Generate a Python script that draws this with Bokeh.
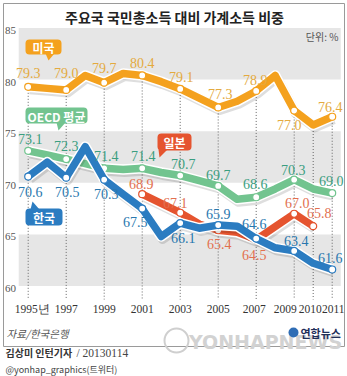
from bokeh.plotting import figure
from bokeh.models import Range1d
from bokeh.core.properties import value
from bokeh.embed import file_html
from bokeh.resources import INLINE

# ---------------- data ----------------
years = list(range(1995, 2012))
us = [79.3, 79.15, 79.0, 80.4, 79.7, 80.6, 80.4, 79.8, 79.1, 78.2, 77.3, 77.9, 78.9, 80.4, 77.0, 75.6, 76.4]
oecd = [73.1, 72.7, 72.3, 71.85, 71.4, 71.3, 71.4, 71.0, 70.7, 70.2, 69.7, 68.4, 68.6, 69.4, 70.3, 69.4, 69.0]
korea = [70.6, 72.0, 70.5, 73.5, 70.3, 68.9, 67.5, 64.8, 66.1, 65.6, 65.9, 65.8, 64.6, 63.7, 63.4, 62.2, 61.6]
japan_years = list(range(2001, 2011))
japan = [68.9, 68.0, 67.1, 66.0, 65.4, 65.2, 64.5, 65.75, 67.0, 65.8]

labeled_years = [1995, 1997, 1999, 2001, 2003, 2005, 2007, 2009, 2011]
japan_labeled = [2001, 2003, 2005, 2007, 2009, 2010]

tick_years = [1995, 1997, 1999, 2001, 2003, 2005, 2007, 2009, 2010, 2011]
tick_labels = ["1995년", "1997", "1999", "2001", "2003", "2005", "2007", "2009", "2010", "2011"]
y_ticks = [60, 65, 70, 75, 80, 85]

title = "주요국 국민총소득 대비 가계소득 비중"
unit = "단위: %"
series_names = ["미국", "OECD 평균", "한국", "일본"]
source_txt = "자료/한국은행"
credit_name = "김상미 인턴기자"
credit_date = "/ 20130114"
credit_tw = "@yonhap_graphics(트위터)"
logo_txt = "연합뉴스"
watermark = "YONHAPNEWS"

# ---------------- layout / style ----------------
W, H = 347, 376
PPX, PPY = 19.0, 10.32
XS = 1995 - 27.7 / PPX
YT = 85 + 27.5 / PPY


def xd(px):
    return XS + px / PPX


def yd(py):
    return YT - py / PPY


NUM = value("Liberation Sans Narrow")
KR = value("Noto Sans CJK KR")

C_US, T_US = "#F4A11E", "#E4AA3E"
C_OE, T_OE = "#72C48F", "#3A9E80"
C_KR, T_KR = "#2B7CC1", "#2877AE"
C_JP, T_JP = "#E5542F", "#E2704F"

off_us = [(0, -14), (0, -17), (0, -15), (0, -12), (1, -12), (2, -13), (-1, -11), (-5, 14), (-2, -10)]
off_oe = [(2, -12), (0, -13), (2, -12), (1, -12), (3, -12), (0, -11), (-1, -13), (-1, -10), (-1, -12)]
off_kr = [(2, 15), (1, 14), (2, 14), (-7, 13), (3, 15), (0, -11), (-2, -15), (2, -10), (-2, -11)]
off_jp = [(-1, -10), (-5, -10), (1, 14), (-2, 15), (3, -11), (6, -13)]
xl_off = [4, 0, 0, 0, 0, 0, -2, -9, -3, 1]

p = figure(width=W, height=H, output_backend="svg", toolbar_location=None,
           x_range=Range1d(XS, XS + W / PPX), y_range=Range1d(YT - H / PPY, YT),
           x_axis_location=None, y_axis_location=None, min_border=0,
           background_fill_color="white", border_fill_color="white")
p.outline_line_color = None
p.grid.visible = False

# bands
band_l = tick_years[0] - 0.5
band_r = tick_years[-1] + 0.45
lows = y_ticks[0::2]
highs = y_ticks[1::2]
p.quad(left=[band_l] * len(lows), right=[band_r] * len(lows), bottom=lows, top=highs,
       fill_color="#E6E6E6", line_color=None)

# outer frame
p.quad(left=[xd(3)], right=[xd(344)], top=[yd(3)], bottom=[yd(346)],
       fill_color=None, line_color="#9A9A9A", line_width=1)

# dotted guide lines from US value down to axis
us_at = {y: v for y, v in zip(years, us)}
p.segment(x0=tick_years, x1=tick_years, y0=[us_at[y] for y in tick_years],
          y1=[yd(299)] * len(tick_years), line_color="#666666", line_width=1, line_dash="1 2")


def draw_series(xs, ys, color, mark_years):
    p.line([x + 1.5 / PPX for x in xs], [y - 2.5 / PPY for y in ys], line_color="black",
           line_alpha=0.13, line_width=10, line_join="round")
    p.line(xs, ys, line_color="white", line_width=10.5, line_join="round")
    p.line(xs, ys, line_color=color, line_width=7.5, line_join="round")
    m = dict(zip(xs, ys))
    p.scatter([x for x in mark_years], [m[x] for x in mark_years], size=7, marker="circle",
              fill_color="white", line_color=color, line_width=1.2)


draw_series(years, us, C_US, labeled_years)
draw_series(years, oecd, C_OE, labeled_years)
draw_series(japan_years, japan, C_JP, japan_labeled)
draw_series(years, korea, C_KR, labeled_years)


def draw_labels(xs, ys, mark_years, offs, color):
    m = dict(zip(xs, ys))
    lx = [yr + o[0] / PPX for yr, o in zip(mark_years, offs)]
    ly = [m[yr] - o[1] / PPY for yr, o in zip(mark_years, offs)]
    tx = ["%.1f" % m[yr] for yr in mark_years]
    p.text(lx, ly, text=tx, text_color=color, text_font=NUM, text_font_size="14px",
           text_align="center", text_baseline="middle")


draw_labels(years, us, labeled_years, off_us, T_US)
draw_labels(years, oecd, labeled_years, off_oe, T_OE)
draw_labels(japan_years, japan, japan_labeled, off_jp, T_JP)
draw_labels(years, korea, labeled_years, off_kr, T_KR)

# callout boxes (px boxes) + tails
boxes = [(25, 61, 39, 54, C_US), (25, 87, 107, 123, C_OE), (25, 62, 208, 225, C_KR), (157, 191, 133, 150, C_JP)]
tails = [[(45, 53), (54, 53), (48, 60)], [(56, 122), (65, 122), (58, 130)],
         [(30, 209), (39, 209), (32, 201)], [(158, 149), (167, 149), (159, 157)]]
for (l, r, t, b, c), tri, name in zip(boxes, tails, series_names):
    p.quad(left=[xd(l)], right=[xd(r)], top=[yd(t)], bottom=[yd(b)], fill_color=c,
           line_color=None, border_radius=4)
    p.patch([xd(a) for a, _ in tri], [yd(bb) for _, bb in tri], fill_color=c, line_color=None)
    p.text([xd((l + r) / 2)], [yd((t + b) / 2 + 0.5)], text=[name], text_color="white",
           text_font=KR, text_font_size="12px", text_font_style="bold",
           text_align="center", text_baseline="middle")

# axis tick labels
p.text([xd(10)] * len(y_ticks), [v - 2.5 / PPY for v in y_ticks], text=[str(v) for v in y_ticks],
       text_color="#555555", text_font=NUM, text_font_size="11px",
       text_align="center", text_baseline="middle")
p.text([yr + o / PPX for yr, o in zip(tick_years, xl_off)], [yd(308)] * len(tick_years),
       text=tick_labels, text_color="#333333", text_font=NUM, text_font_size="11.5px",
       text_align="center", text_baseline="middle")

# title & unit
p.text([xd(174)], [yd(16)], text=[title], text_color="#222222", text_font=KR,
       text_font_size="14px", text_font_style="bold", text_align="center", text_baseline="middle")
p.text([xd(338)], [yd(36)], text=[unit], text_color="#555555", text_font=KR,
       text_font_size="10px", text_align="right", text_baseline="middle")

# watermark
p.circle([xd(176)], [yd(340)], radius=12 / PPX, fill_color=None, line_color="#CFCFCF", line_width=2)
p.text([xd(265)], [yd(341)], text=[watermark], text_color="#D2D2D2", text_font=value("DejaVu Sans"),
       text_font_size="19px", text_font_style="bold", text_align="center", text_baseline="middle")

# footer
p.text([xd(6)], [yd(333)], text=[source_txt], text_color="#555555", text_font=KR,
       text_font_size="10.5px", text_font_style="italic", text_align="left", text_baseline="middle")
p.circle([xd(293)], [yd(332)], radius=5 / PPX, fill_color="#2F6DB5", line_color=None)
p.text([xd(300)], [yd(332)], text=[logo_txt], text_color="#1F2F5A", text_font=KR,
       text_font_size="11px", text_font_style="bold", text_align="left", text_baseline="middle")
p.text([xd(5)], [yd(352)], text=[credit_name], text_color="#333333", text_font=KR,
       text_font_size="10px", text_font_style="bold", text_align="left", text_baseline="middle")
p.text([xd(76)], [yd(352)], text=[credit_date], text_color="#444444", text_font=NUM,
       text_font_size="11.5px", text_align="left", text_baseline="middle")
p.text([xd(5)], [yd(369)], text=[credit_tw], text_color="#444444", text_font=KR,
       text_font_size="9px", text_align="left", text_baseline="middle")

open("out.html", "w").write(file_html(p, INLINE))
